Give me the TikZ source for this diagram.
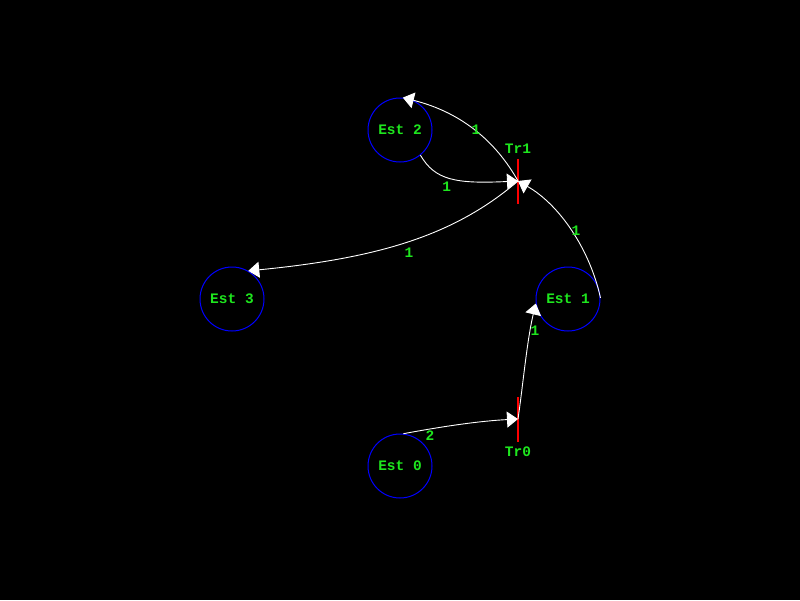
\documentclass[tikz,border=0pt]{standalone}
\usepackage{fontspec}
\setmonofont{Liberation Mono}
\usetikzlibrary{arrows.meta}
\definecolor{lblgreen}{RGB}{30,230,30}
\begin{document}
\begin{tikzpicture}[x=1pt,y=-1pt,
  txt/.style={font=\ttfamily\bfseries\fontsize{14.5}{14.5}\selectfont,text=lblgreen},
  place/.style={circle,draw=blue,line width=1pt,minimum size=64pt,inner sep=0pt,txt},
  trans/.style={rectangle,fill=red,minimum width=2pt,minimum height=45pt,inner sep=0pt},
  flow/.style={draw=white,line width=0.9pt,-{Triangle[length=11pt,width=16pt]}},
  lbl/.style={txt,inner sep=0pt}]
\fill[black] (0,0) rectangle (800,600);
\useasboundingbox (0,0) rectangle (800,600);

\node[place] (e0) at (400,466) {Est 0};
\node[place] (e1) at (568,299) {Est 1};
\node[place] (e2) at (400,130) {Est 2};
\node[place] (e3) at (232,299) {Est 3};

\node[trans,label={[lbl,label distance=5pt]below:Tr0}] (t0) at (518,419) {};
\node[trans,label={[lbl,label distance=5pt]above:Tr1}] (t1) at (518,181) {};

\draw[flow] (e0.84) .. controls (445,426) and (480,421) .. (t0.center)
  node[lbl,pos=0.22,below=1pt] {2};
\draw[flow] (t0.center) .. controls (523,385) and (527,340) .. (e1.188)
  node[lbl,pos=0.76,right=0pt] {1};
\draw[flow] (e1.2) .. controls (590,250) and (560,205) .. (t1.center)
  node[lbl,pos=0.5,right=0pt] {1};
\draw[flow] (e2.309) .. controls (435,180) and (455,184) .. (t1.center)
  node[lbl,pos=0.45,below=4pt] {1};
\draw[flow] (t1.center) .. controls (495,140) and (460,112) .. (e2.85)
  node[lbl,pos=0.5,right=-2pt] {1};
\draw[flow] (t1.center) .. controls (455,235) and (380,258) .. (e3.60)
  node[lbl,pos=0.5,below=6pt] {1};
\end{tikzpicture}
\end{document}
